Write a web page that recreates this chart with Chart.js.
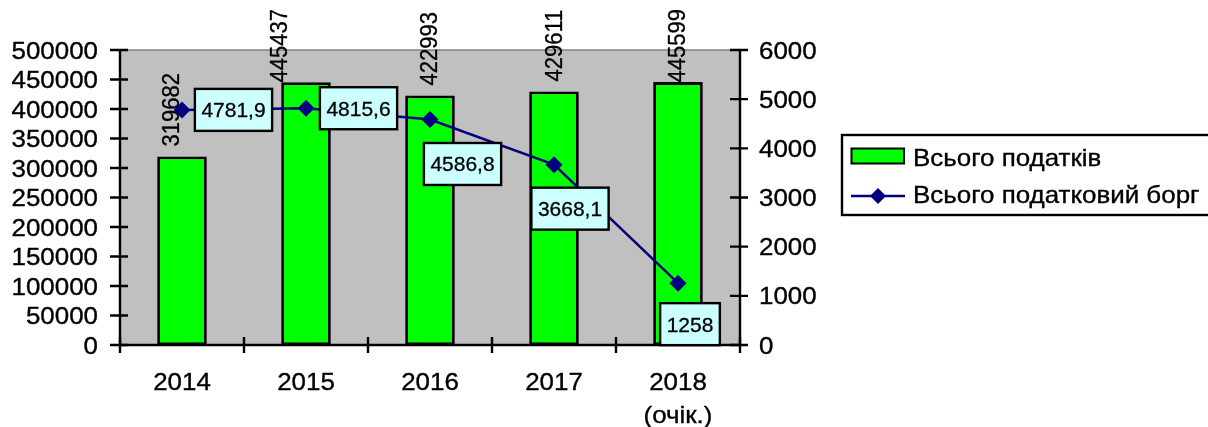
<!DOCTYPE html>
<html>
<head>
<meta charset="utf-8">
<script src="https://cdn.jsdelivr.net/npm/chart.js@4/dist/chart.umd.min.js"></script>
<style>
  html, body { margin: 0; padding: 0; background: #ffffff; }
  #wrap { width: 1208px; height: 427px; }
</style>
</head>
<body>
<div id="wrap"><canvas id="c" width="1208" height="427"></canvas></div>
<script>
// ---- data ----
const categories = [['2014'], ['2015'], ['2016'], ['2017'], ['2018', '(очік.)']];
const taxTotal = [319682, 445437, 422993, 429611, 445599];
const taxDebt = [4781.9, 4815.6, 4586.8, 3668.1, 1258];
const taxTotalLabels = ['319682', '445437', '422993', '429611', '445599'];
const taxDebtLabels = ['4781,9', '4815,6', '4586,8', '3668,1', '1258'];
const leftTicks = [0, 50000, 100000, 150000, 200000, 250000, 300000, 350000, 400000, 450000, 500000];
const rightTicks = [0, 1000, 2000, 3000, 4000, 5000, 6000];
const seriesNames = ['Всього податків', 'Всього податковий борг'];

// ---- label placement (style only) ----
const barLabelShiftX = [-12, -28, -2, -1, -1.5];
const debtBoxOffset = [[51.5, 0], [52.5, 0], [32.5, 44.5], [16, 44], [12, 41]];

const FONT = "'Liberation Sans', Arial, sans-serif";
const STRETCH = 1.08;

function stretchedText(ctx, text, x, y, align, size) {
  ctx.save();
  ctx.translate(x, y);
  ctx.scale(STRETCH, 1);
  ctx.font = size + 'px ' + FONT;
  ctx.textAlign = align;
  ctx.textBaseline = 'alphabetic';
  ctx.fillStyle = '#000000';
  ctx.strokeStyle = '#000000';
  ctx.lineWidth = 0.35;
  ctx.fillText(text, 0, 0);
  ctx.strokeText(text, 0, 0);
  ctx.restore();
}

const decor = {
  id: 'decor',
  beforeDatasetsDraw(chart) {
    const { ctx, chartArea: a } = chart;
    ctx.save();
    ctx.fillStyle = '#C0C0C0';
    ctx.fillRect(a.left, a.top, a.right - a.left, a.bottom - a.top);
    ctx.strokeStyle = '#808080';
    ctx.lineWidth = 1.5;
    ctx.beginPath();
    ctx.moveTo(a.left, a.top);
    ctx.lineTo(a.right, a.top);
    ctx.stroke();
    ctx.restore();
  },
  afterDatasetDraw(chart, args) {
    if (args.index !== 0) return;
    const { ctx } = chart;
    const meta = chart.getDatasetMeta(0);
    ctx.save();
    ctx.fillStyle = '#000000';
    ctx.strokeStyle = '#000000';
    ctx.lineWidth = 0.3;
    ctx.font = '22px ' + FONT;
    meta.data.forEach((bar, i) => {
      const txt = taxTotalLabels[i];
      const len = ctx.measureText(txt).width;
      const bottom = Math.max(bar.y - 10, 9 + len);
      ctx.save();
      ctx.translate(bar.x + barLabelShiftX[i], bottom);
      ctx.rotate(-Math.PI / 2);
      ctx.scale(1, 1.08);
      ctx.textAlign = 'left';
      ctx.textBaseline = 'alphabetic';
      ctx.fillText(txt, 0, 8);
      ctx.strokeText(txt, 0, 8);
      ctx.restore();
    });
    ctx.restore();
  },
  afterDatasetsDraw(chart) {
    const { ctx, chartArea: a } = chart;
    const xs = chart.scales.x, yl = chart.scales.y, yr = chart.scales.y1;
    ctx.save();
    ctx.strokeStyle = '#000000';
    ctx.lineWidth = 2.4;
    ctx.lineCap = 'butt';
    // axis lines
    ctx.beginPath();
    ctx.moveTo(a.left, a.top); ctx.lineTo(a.left, a.bottom);
    ctx.moveTo(a.right, a.top); ctx.lineTo(a.right, a.bottom);
    ctx.moveTo(a.left - 1, a.bottom); ctx.lineTo(a.right + 1, a.bottom);
    ctx.stroke();
    // ticks
    ctx.beginPath();
    leftTicks.forEach(v => {
      const y = yl.getPixelForValue(v);
      ctx.moveTo(a.left - 10, y); ctx.lineTo(a.left + 8, y);
    });
    rightTicks.forEach(v => {
      const y = yr.getPixelForValue(v);
      ctx.moveTo(a.right - 10, y); ctx.lineTo(a.right + 8, y);
    });
    const half = (xs.getPixelForValue(1) - xs.getPixelForValue(0)) / 2;
    for (let i = 0; i <= categories.length; i++) {
      const x = i < categories.length ? xs.getPixelForValue(i) - half : xs.getPixelForValue(categories.length - 1) + half;
      ctx.moveTo(x, a.bottom - 8); ctx.lineTo(x, a.bottom + 8);
    }
    ctx.stroke();
    ctx.restore();

    // tick labels
    leftTicks.forEach(v => {
      stretchedText(ctx, String(v), a.left - 22, yl.getPixelForValue(v) + 8.5, 'right', 24);
    });
    rightTicks.forEach(v => {
      stretchedText(ctx, String(v), a.right + 19, yr.getPixelForValue(v) + 8.5, 'left', 24);
    });
    categories.forEach((lines, i) => {
      const x = xs.getPixelForValue(i);
      lines.forEach((t, j) => {
        stretchedText(ctx, t, x, a.bottom + 45 + j * 33, 'center', 24);
      });
    });

    // debt data label boxes
    const lmeta = chart.getDatasetMeta(1);
    ctx.save();
    ctx.font = '21px ' + FONT;
    lmeta.data.forEach((pt, i) => {
      const txt = taxDebtLabels[i];
      const tw = ctx.measureText(txt).width;
      const w = tw + 13, h = 42;
      const cx = pt.x + debtBoxOffset[i][0];
      const cy = pt.y + debtBoxOffset[i][1];
      ctx.fillStyle = '#CCFFFF';
      ctx.fillRect(cx - w / 2, cy - h / 2, w, h);
      ctx.strokeStyle = '#000000';
      ctx.lineWidth = 2.4;
      ctx.strokeRect(cx - w / 2, cy - h / 2, w, h);
      ctx.fillStyle = '#000000';
      ctx.textAlign = 'center';
      ctx.textBaseline = 'alphabetic';
      ctx.fillText(txt, cx, cy + 7.5);
      ctx.lineWidth = 0.3;
      ctx.strokeText(txt, cx, cy + 7.5);
    });
    ctx.restore();

    // legend
    ctx.save();
    ctx.strokeStyle = '#000000';
    ctx.lineWidth = 2.4;
    ctx.fillStyle = '#FFFFFF';
    ctx.fillRect(842, 135, 380, 80);
    ctx.strokeRect(842, 135, 380, 80);
    ctx.fillStyle = '#00FF00';
    ctx.fillRect(851.5, 148.5, 52.5, 15);
    ctx.lineWidth = 2;
    ctx.strokeRect(851.5, 148.5, 52.5, 15);
    ctx.strokeStyle = '#000080';
    ctx.lineWidth = 2.5;
    ctx.beginPath();
    ctx.moveTo(851, 196); ctx.lineTo(905, 196);
    ctx.stroke();
    ctx.fillStyle = '#000080';
    ctx.beginPath();
    ctx.moveTo(878, 188); ctx.lineTo(886, 196); ctx.lineTo(878, 204); ctx.lineTo(870, 196);
    ctx.closePath();
    ctx.fill();
    ctx.restore();
    stretchedText(ctx, seriesNames[0], 913, 166, 'left', 24);
    stretchedText(ctx, seriesNames[1], 913, 203, 'left', 24);
  }
};

new Chart(document.getElementById('c'), {
  data: {
    labels: categories,
    datasets: [
      {
        type: 'bar',
        label: seriesNames[0],
        data: taxTotal,
        yAxisID: 'y',
        backgroundColor: '#00FF00',
        borderColor: '#000000',
        borderWidth: 2.8,
        borderSkipped: false,
        categoryPercentage: 1,
        barPercentage: 0.4,
        order: 1
      },
      {
        type: 'line',
        label: seriesNames[1],
        data: taxDebt,
        yAxisID: 'y1',
        borderColor: '#000080',
        borderWidth: 2.5,
        backgroundColor: '#000080',
        pointStyle: 'rectRot',
        pointRadius: 8.5,
        pointBorderWidth: 0,
        pointBackgroundColor: '#000080',
        tension: 0,
        fill: false,
        order: 0
      }
    ]
  },
  options: {
    responsive: false,
    devicePixelRatio: 1,
    animation: false,
    layout: { padding: { top: 50, left: 0, right: 0, bottom: 0 } },
    plugins: { legend: { display: false }, tooltip: { enabled: false }, title: { display: false } },
    scales: {
      x: {
        type: 'category',
        offset: true,
        grid: { display: false },
        border: { display: false },
        ticks: { display: false },
        afterFit: s => { s.height = 82; }
      },
      y: {
        position: 'left',
        min: 0, max: 500000,
        grid: { display: false },
        border: { display: false },
        ticks: { display: false, stepSize: 50000 },
        afterFit: s => { s.width = 120; }
      },
      y1: {
        position: 'right',
        min: 0, max: 6000,
        grid: { display: false },
        border: { display: false },
        ticks: { display: false, stepSize: 1000 },
        afterFit: s => { s.width = 468; }
      }
    }
  },
  plugins: [decor]
});
</script>
</body>
</html>
